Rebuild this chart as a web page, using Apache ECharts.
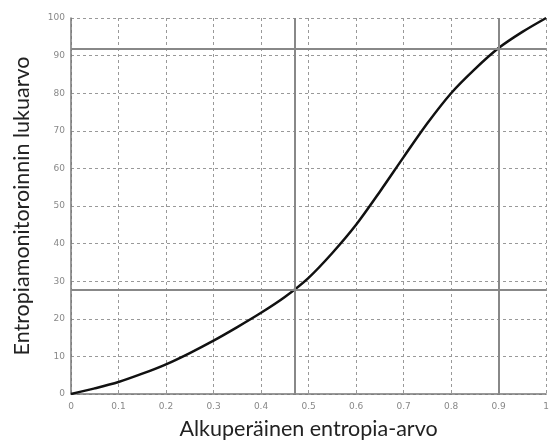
<!DOCTYPE html>
<html><head><meta charset="utf-8">
<script src="https://cdn.jsdelivr.net/npm/echarts@6/dist/echarts.min.js"></script>
<style>html,body{margin:0;padding:0;background:#fff}#c{width:552px;height:445px}</style>
</head><body><div id="c"></div>
<script>
var xValues = [0, 0.05, 0.1, 0.15, 0.2, 0.25, 0.3, 0.35, 0.4, 0.45, 0.5, 0.55, 0.6, 0.65, 0.7, 0.75, 0.8, 0.85, 0.9, 0.95, 1.0];
var yValues = [0, 1.5, 3.2, 5.4, 7.9, 10.9, 14.2, 17.8, 21.6, 25.8, 30.9, 37.5, 45.0, 53.8, 63.0, 72.0, 80, 86.4, 92, 96.3, 100];
var vLines = [0.471, 0.897];
var hLines = [27.8, 91.7];
var xName = 'Alkuperäinen entropia-arvo';
var yName = 'Entropiamonitoroinnin lukuarvo';

var chart = echarts.init(document.getElementById('c'));
var pts = xValues.map(function(x, i){ return [x, yValues[i]]; });
var ml = [];
vLines.forEach(function(v){ ml.push({xAxis: v}); });
hLines.forEach(function(v){ ml.push({yAxis: v}); });
chart.setOption({
  animation: false,
  grid: {left: 71, right: 4, top: 18, bottom: 50},
  xAxis: {
    type: 'value', min: 0, max: 1, interval: 0.1,
    name: xName, nameLocation: 'middle', nameGap: 24,
    nameTextStyle: {fontFamily: 'Lato', fontSize: 21.5, color: '#222'},
    axisLine: {show: true, lineStyle: {color: '#777', width: 1.5}},
    axisTick: {show: false},
    axisLabel: {fontFamily: 'DejaVu Sans', fontSize: 9, color: '#888', margin: 8,
      formatter: function(v){ return String(Math.round(v*10)/10); }},
    splitLine: {show: true, lineStyle: {color: '#999', type: [3, 3], width: 1}}
  },
  yAxis: {
    type: 'value', min: 0, max: 100, interval: 10,
    name: yName, nameLocation: 'middle', nameGap: 38,
    nameTextStyle: {fontFamily: 'Lato', fontSize: 21.5, color: '#222'},
    axisLine: {show: true, lineStyle: {color: '#777', width: 1.5}},
    axisTick: {show: false},
    axisLabel: {fontFamily: 'DejaVu Sans', fontSize: 9, color: '#888', margin: 6},
    splitLine: {show: true, lineStyle: {color: '#999', type: [3, 3], width: 1}}
  },
  series: [{
    type: 'line', data: pts, smooth: 0.3, showSymbol: false,
    lineStyle: {color: '#111', width: 2.5},
    markLine: {
      silent: true, symbol: 'none', label: {show: false},
      lineStyle: {color: '#888', type: 'solid', width: 2},
      data: ml
    }
  }]
});
</script></body></html>
